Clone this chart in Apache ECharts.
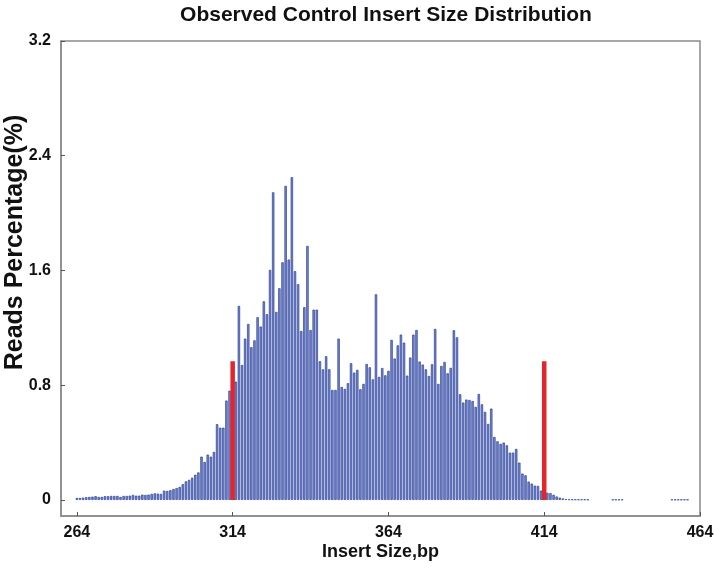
<!DOCTYPE html>
<html>
<head>
<meta charset="utf-8">
<script src="https://cdn.jsdelivr.net/npm/echarts@6/dist/echarts.min.js"></script>
<style>html,body{margin:0;padding:0;background:#fff}#c{width:714px;height:568px}</style>
</head>
<body>
<div id="c"></div>
<script>
// ---- data ----
var insertSizes = [264,265,266,267,268,269,270,271,272,273,274,275,276,277,278,279,280,281,282,283,284,285,286,287,288,289,290,291,292,293,294,295,296,297,298,299,300,301,302,303,304,305,306,307,308,309,310,311,312,313,314,315,316,317,318,319,320,321,322,323,324,325,326,327,328,329,330,331,332,333,334,335,336,337,338,339,340,341,342,343,344,345,346,347,348,349,350,351,352,353,354,355,356,357,358,359,360,361,362,363,364,365,366,367,368,369,370,371,372,373,374,375,376,377,378,379,380,381,382,383,384,385,386,387,388,389,390,391,392,393,394,395,396,397,398,399,400,401,402,403,404,405,406,407,408,409,410,411,412,413,414,415,416,417,418,419,420,421,422,423,424,425,426,427,428,436,437,438,439,455,456,457,458,459,460];
var readsPct = [0.014,0.014,0.016,0.019,0.021,0.023,0.026,0.021,0.021,0.026,0.026,0.028,0.028,0.028,0.021,0.028,0.028,0.030,0.035,0.030,0.030,0.037,0.035,0.037,0.042,0.046,0.044,0.042,0.065,0.063,
0.068,0.076,0.083,0.091,0.110,0.130,0.140,0.155,0.176,0.192,
0.302,0.265,0.316,0.302,0.335,0.528,0.504,0.504,0.693,0.762,0.800,0.825,1.353,0.941,1.125,1.227,1.065,1.113,1.274,1.209,
1.385,1.295,1.604,2.145,1.311,1.476,1.657,2.190,1.676,2.250,1.595,1.504,1.178,1.344,1.771,1.185,1.327,1.327,0.967,0.911,
1.002,0.911,0.767,0.767,1.125,0.788,0.774,0.814,0.953,0.888,0.907,0.772,0.809,0.948,0.925,0.841,1.434,0.858,0.920,0.869,
0.900,1.116,0.986,1.078,1.153,1.097,0.867,0.993,1.153,1.185,0.965,0.944,0.911,0.864,0.946,1.192,0.809,0.934,0.962,0.883,
0.921,1.183,1.134,0.737,0.679,0.700,0.697,0.690,0.649,0.739,0.667,0.614,0.530,0.637,0.439,0.409,0.391,0.400,0.381,0.330,
0.330,0.356,0.260,0.184,0.172,0.128,0.114,0.100,0.098,0.065,0.055,0.050,0.047,0.036,0.024,0.016,0.010,0.006,0.004,0.003,
0.003,0.003,0.003,0.003,0.002,
0.002,0.002,0.002,0.002,
0.002,0.002,0.002,0.002,0.002,0.002];
var markerSizes = [314, 414];
var markerPct = [0.967, 0.967];
var xTickLabels = [264, 314, 364, 414, 464];
var yTickLabels = [0, 0.8, 1.6, 2.4, 3.2];

// ---- chart ----
var chart = echarts.init(document.getElementById('c'), null, {renderer: 'canvas'});
var font = '"Liberation Sans", Arial, Helvetica, sans-serif';
var frameColor = '#8a8a8a';

var blueData = insertSizes.map(function (s, i) { return [s, readsPct[i]]; });
var redData = markerSizes.map(function (s, i) { return [s, markerPct[i]]; });

var xCommon = {
  type: 'value', min: 258.9, max: 464, gridIndex: 0
};

chart.setOption({
  animation: false,
  backgroundColor: '#ffffff',
  title: {
    text: 'Observed Control Insert Size Distribution',
    left: 381, top: 0, textAlign: 'center',
    textStyle: {fontFamily: font, fontWeight: 'bold', fontSize: 21, color: '#111'}
  },
  grid: {left: 61, right: 14, top: 41, bottom: 52, outerBoundsMode: 'none', containLabel: false,
         show: true, borderColor: frameColor, borderWidth: 1.5, backgroundColor: 'transparent'},
  xAxis: [
    Object.assign({}, xCommon, {
      name: 'Insert Size,bp', nameLocation: 'middle', nameGap: 27, nameMoveOverlap: false,
      nameTextStyle: {fontFamily: font, fontWeight: 'bold', fontSize: 18, color: '#111'},
      axisLine: {show: true, onZero: false, lineStyle: {color: frameColor, width: 1.5}},
      axisTick: {show: true, inside: true, length: 4, customValues: xTickLabels, lineStyle: {color: '#555'}},
      axisLabel: {customValues: xTickLabels, margin: 9, fontFamily: font, fontWeight: 'bold', fontSize: 16, color: '#111'},
      splitLine: {show: false}
    }),
    Object.assign({}, xCommon, {show: false})
  ],
  yAxis: {
    type: 'value', min: -0.112, max: 3.2,
    name: 'Reads Percentage(%)', nameLocation: 'middle', nameGap: 33, nameRotate: 90, nameMoveOverlap: false,
    nameTextStyle: {fontFamily: font, fontWeight: 'bold', fontSize: 25, color: '#111', padding: [0, 0, 0, 72]},
    axisLine: {show: true, onZero: false, lineStyle: {color: frameColor, width: 1.5}},
    axisTick: {show: true, inside: true, length: 4, customValues: yTickLabels, lineStyle: {color: '#555'}},
    axisLabel: {customValues: yTickLabels, margin: 10, fontFamily: font, fontWeight: 'bold', fontSize: 16, color: '#111'},
    splitLine: {show: false}
  },
  series: [
    {
      type: 'bar', xAxisIndex: 0, data: blueData, barWidth: 2.4,
      itemStyle: {color: '#7285cf', borderColor: '#2f4396', borderWidth: 0.7},
      silent: true
    },
    {
      type: 'bar', xAxisIndex: 1, data: redData, barWidth: 4.5, z: 3,
      itemStyle: {color: '#e3262c'},
      silent: true
    }
  ]
});
</script>
</body>
</html>
